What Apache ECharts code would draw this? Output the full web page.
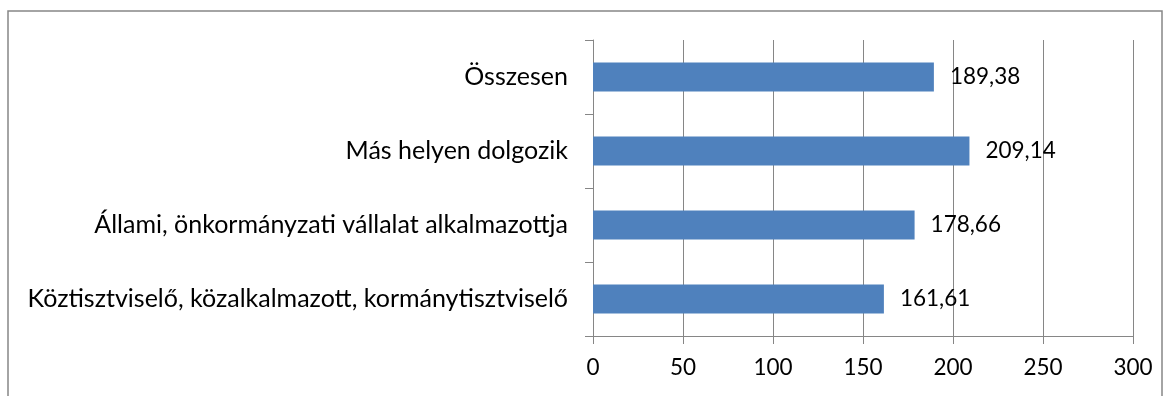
<!DOCTYPE html>
<html>
<head>
<meta charset="utf-8">
<script src="https://cdn.jsdelivr.net/npm/echarts@6/dist/echarts.min.js"></script>
<style>
  html, body { margin: 0; padding: 0; background: #fff; }
  #chart { width: 1170px; height: 396px; }
</style>
</head>
<body>
<div id="chart"></div>
<script>
// Categories listed bottom to top, as the category axis runs upward
const categories = [
  'Köztisztviselő, közalkalmazott, kormánytisztviselő',
  'Állami, önkormányzati vállalat alkalmazottja',
  'Más helyen dolgozik',
  'Összesen'
];
const values = [161.61, 178.66, 209.14, 189.38];
const axisTicks = [0, 50, 100, 150, 200, 250, 300];

const FONT = 'Lato';
const GRAY = '#868686';

const chart = echarts.init(document.getElementById('chart'), null, { renderer: 'canvas' });

chart.setOption({
  animation: false,
  backgroundColor: '#ffffff',
  textStyle: { fontFamily: FONT, color: '#000' },
  graphic: [{
    type: 'rect',
    silent: true,
    shape: { x: 8, y: 11, width: 1154, height: 420 },
    style: { fill: 'none', stroke: GRAY, lineWidth: 1.5 }
  }],
  grid: { left: 593, right: 37, top: 40, bottom: 60, containLabel: false },
  xAxis: {
    type: 'value',
    min: axisTicks[0],
    max: axisTicks[axisTicks.length - 1],
    interval: axisTicks[1] - axisTicks[0],
    axisLine: { show: true, lineStyle: { color: GRAY, width: 1 } },
    axisTick: { show: true, length: 8, lineStyle: { color: GRAY } },
    splitLine: { show: true, lineStyle: { color: GRAY, width: 1 } },
    axisLabel: { color: '#000', fontFamily: FONT, fontSize: 22.5, margin: 20 }
  },
  yAxis: {
    type: 'category',
    data: categories,
    axisLine: { show: true, lineStyle: { color: GRAY, width: 1 } },
    axisTick: { show: true, length: 8, alignWithLabel: false, lineStyle: { color: GRAY } },
    splitLine: { show: false },
    axisLabel: { color: '#000', fontFamily: FONT, fontSize: 25, margin: 25 }
  },
  series: [{
    type: 'bar',
    data: values,
    barWidth: 29,
    itemStyle: { color: '#4f81bd' },
    label: {
      show: true,
      position: 'right',
      distance: 16,
      color: '#000',
      fontFamily: FONT,
      fontSize: 22.5,
      formatter: p => p.value.toFixed(2).replace('.', ',')
    }
  }]
});
</script>
</body>
</html>
